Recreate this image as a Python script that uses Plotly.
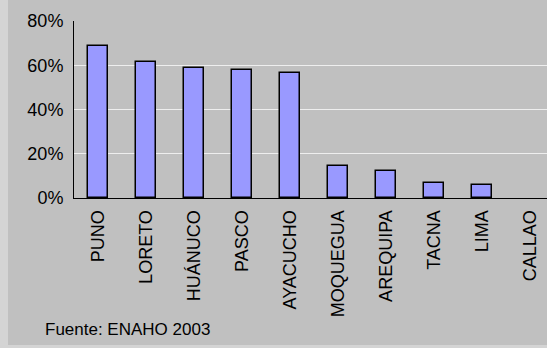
import plotly.graph_objects as go

categories = ["PUNO", "LORETO", "HUÁNUCO", "PASCO", "AYACUCHO",
              "MOQUEGUA", "AREQUIPA", "TACNA", "LIMA", "CALLAO"]
values = [0.687, 0.616, 0.588, 0.580, 0.566, 0.145, 0.122, 0.066, 0.059, 0.0]
y_ticks = [0, 0.2, 0.4, 0.6, 0.8]
y_ticklabels = ["0%", "20%", "40%", "60%", "80%"]
source_text = "Fuente: ENAHO 2003"

W, H = 547, 348
ML, MR, MT, MB = 74, 0, 21, 150
plot_w = W - ML - MR
plot_h = H - MT - MB

def px_x(px):
    return (px - ML) / plot_w

def px_y(py):
    return (H - MB - py) / plot_h

FONT = "Arial, 'Liberation Sans', sans-serif"

line_widths = [1.5 if v > 0 else 0 for v in values]

fig = go.Figure()
fig.add_trace(go.Bar(
    x=list(range(len(categories))), y=values,
    width=0.42,
    marker=dict(color="#9999FF", line=dict(color="black", width=line_widths)),
))

fig.update_layout(
    width=W, height=H,
    margin=dict(l=ML, r=MR, t=MT, b=MB),
    paper_bgcolor="#C0C0C0", plot_bgcolor="#C0C0C0",
    showlegend=False,
    font=dict(family=FONT, color="black", size=18),
    bargap=0,
)
fig.update_xaxes(
    range=[-0.5, (W - ML) / 48 - 0.5],
    tickmode="array", tickvals=list(range(len(categories))), ticktext=categories,
    tickangle=-90, tickfont=dict(size=18, family=FONT),
    showgrid=False, showline=True, linecolor="black", linewidth=1,
    ticks="", ticklabelstandoff=4, zeroline=False,
)
fig.update_yaxes(
    range=[0, 0.8], tickmode="array", tickvals=y_ticks, ticktext=y_ticklabels,
    tickfont=dict(size=18, family=FONT),
    showgrid=True, gridcolor="#EEEEEE", gridwidth=1,
    showline=True, linecolor="black", linewidth=1,
    ticks="", ticklabelstandoff=6, zeroline=False,
)
fig.add_annotation(
    text=source_text, xref="paper", yref="paper",
    x=px_x(43), y=px_y(329), xanchor="left", yanchor="middle",
    showarrow=False, font=dict(size=17, family=FONT, color="black"),
)
# lighter frame strips at left and bottom
fig.add_shape(type="rect", xref="paper", yref="paper",
              x0=px_x(0), x1=px_x(8), y0=px_y(H), y1=px_y(0),
              fillcolor="#D4D4D4", line=dict(width=0), layer="below")
fig.add_shape(type="rect", xref="paper", yref="paper",
              x0=px_x(0), x1=px_x(W), y0=px_y(H), y1=px_y(345),
              fillcolor="#D4D4D4", line=dict(width=0), layer="below")

fig.write_html("out.html")
